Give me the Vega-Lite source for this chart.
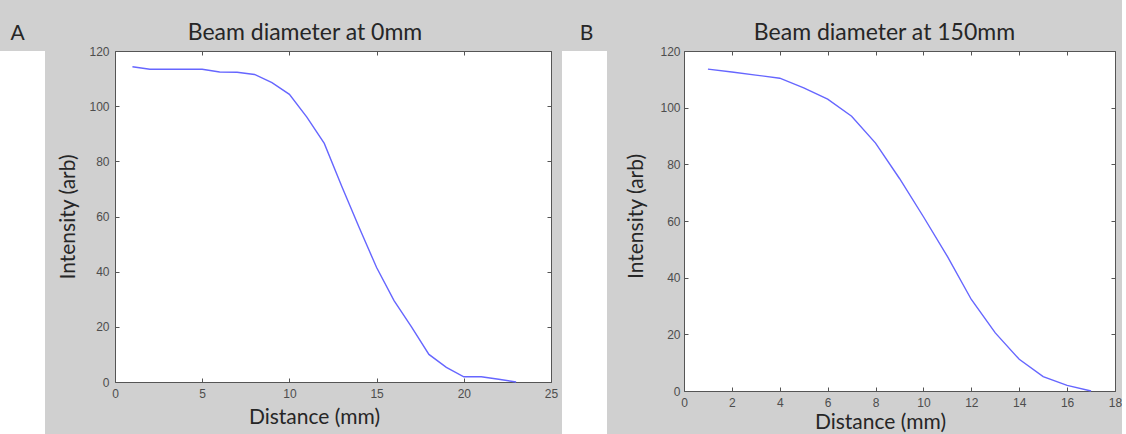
{
  "$schema": "https://vega.github.io/schema/vega-lite/v6.json",
  "background": "#d0d0d0",
  "padding": {"top": 22, "left": 0, "right": 0, "bottom": 0},
  "spacing": 4,
  "config": {
    "view": {"fill": "white", "stroke": null},
    "axis": {
      "domainColor": "#555555", "tickColor": "#555555", "tickSize": -4, "grid": false,
      "labelFont": "Liberation Sans", "labelFontSize": 12, "labelColor": "#4d4d4d",
      "labelFlush": false, "labelPadding": 10,
      "titleFont": "Lato", "titleFontSize": 21, "titleFontWeight": "normal", "titleColor": "#262626"
    },
    "title": {"font": "Lato", "fontSize": 23, "fontWeight": "normal", "color": "#262626", "frame": "group"}
  },
  "datasets": {
    "a": [
      {"distance": 1, "intensity": 114.3}, {"distance": 2, "intensity": 113.4}, {"distance": 3, "intensity": 113.4},
      {"distance": 4, "intensity": 113.4}, {"distance": 5, "intensity": 113.4}, {"distance": 6, "intensity": 112.4},
      {"distance": 7, "intensity": 112.3}, {"distance": 8, "intensity": 111.5}, {"distance": 9, "intensity": 108.5},
      {"distance": 10, "intensity": 104.3}, {"distance": 11, "intensity": 96}, {"distance": 12, "intensity": 86.5},
      {"distance": 13, "intensity": 71}, {"distance": 14, "intensity": 56}, {"distance": 15, "intensity": 41.5},
      {"distance": 16, "intensity": 29.5}, {"distance": 17, "intensity": 20}, {"distance": 18, "intensity": 10},
      {"distance": 19, "intensity": 5.3}, {"distance": 20, "intensity": 1.9}, {"distance": 21, "intensity": 1.9},
      {"distance": 22, "intensity": 1}, {"distance": 23, "intensity": 0}
    ],
    "b": [
      {"distance": 1, "intensity": 113.6}, {"distance": 2, "intensity": 112.6}, {"distance": 3, "intensity": 111.5},
      {"distance": 4, "intensity": 110.4}, {"distance": 5, "intensity": 107}, {"distance": 6, "intensity": 103},
      {"distance": 7, "intensity": 97}, {"distance": 8, "intensity": 87.5}, {"distance": 9, "intensity": 75},
      {"distance": 10, "intensity": 61.5}, {"distance": 11, "intensity": 47.5}, {"distance": 12, "intensity": 32.3},
      {"distance": 13, "intensity": 20.5}, {"distance": 14, "intensity": 11.2}, {"distance": 15, "intensity": 5.1},
      {"distance": 16, "intensity": 2}, {"distance": 17, "intensity": 0}
    ]
  },
  "hconcat": [
    {
      "spacing": 12,
      "hconcat": [
        {
          "width": 45, "height": 383,
          "view": {"fill": "white", "stroke": null},
          "title": {"text": "A", "fontSize": 21, "offset": 7, "dx": -5},
          "data": {"values": [{}]},
          "mark": "text",
          "encoding": {}
        },
        {
          "width": 436, "height": 331,
          "title": {"text": "Beam diameter at 0mm", "offset": 0, "dx": -28},
          "data": {"name": "a"},
          "layer": [
            {
              "mark": {"type": "line", "color": "#6666ff", "strokeWidth": 1.4},
              "encoding": {
                "x": {"field": "distance", "type": "quantitative", "scale": {"domain": [0, 25], "nice": false},
                      "axis": {"orient": "bottom", "values": [0, 5, 10, 15, 20, 25], "title": "Distance (mm)", "titlePadding": 7, "titleX": 199}},
                "y": {"field": "intensity", "type": "quantitative", "scale": {"domain": [0, 120], "nice": false},
                      "axis": {"orient": "left", "values": [0, 20, 40, 60, 80, 100, 120], "title": "Intensity (arb)", "titlePadding": 10}}
              }
            },
            {
              "mark": {"type": "line", "opacity": 0},
              "encoding": {
                "x": {"field": "distance", "type": "quantitative",
                      "axis": {"orient": "top", "values": [0, 5, 10, 15, 20, 25], "labels": false, "title": null}},
                "y": {"field": "intensity", "type": "quantitative",
                      "axis": {"orient": "right", "values": [0, 20, 40, 60, 80, 100, 120], "labels": false, "title": null}}
              }
            }
          ],
          "resolve": {"axis": {"x": "independent", "y": "independent"}}
        }
      ]
    },
    {
      "spacing": 18,
      "hconcat": [
        {
          "width": 45, "height": 383,
          "view": {"fill": "white", "stroke": null},
          "title": {"text": "B", "fontSize": 21, "offset": 7, "dx": 2},
          "data": {"values": [{}]},
          "mark": "text",
          "encoding": {}
        },
        {
          "width": 431, "height": 340,
          "title": {"text": "Beam diameter at 150mm", "offset": 0, "dx": -15},
          "data": {"name": "b"},
          "layer": [
            {
              "mark": {"type": "line", "color": "#6666ff", "strokeWidth": 1.4},
              "encoding": {
                "x": {"field": "distance", "type": "quantitative", "scale": {"domain": [0, 18], "nice": false},
                      "axis": {"orient": "bottom", "values": [0, 2, 4, 6, 8, 10, 12, 14, 16, 18], "title": "Distance (mm)", "titlePadding": 3, "titleX": 196}},
                "y": {"field": "intensity", "type": "quantitative", "scale": {"domain": [0, 120], "nice": false},
                      "axis": {"orient": "left", "values": [0, 20, 40, 60, 80, 100, 120], "title": "Intensity (arb)", "labelPadding": 8, "titlePadding": 13, "titleY": 165}}
              }
            },
            {
              "mark": {"type": "line", "opacity": 0},
              "encoding": {
                "x": {"field": "distance", "type": "quantitative",
                      "axis": {"orient": "top", "values": [0, 2, 4, 6, 8, 10, 12, 14, 16, 18], "labels": false, "title": null}},
                "y": {"field": "intensity", "type": "quantitative",
                      "axis": {"orient": "right", "values": [0, 20, 40, 60, 80, 100, 120], "labels": false, "title": null}}
              }
            }
          ],
          "resolve": {"axis": {"x": "independent", "y": "independent"}}
        }
      ]
    }
  ]
}
